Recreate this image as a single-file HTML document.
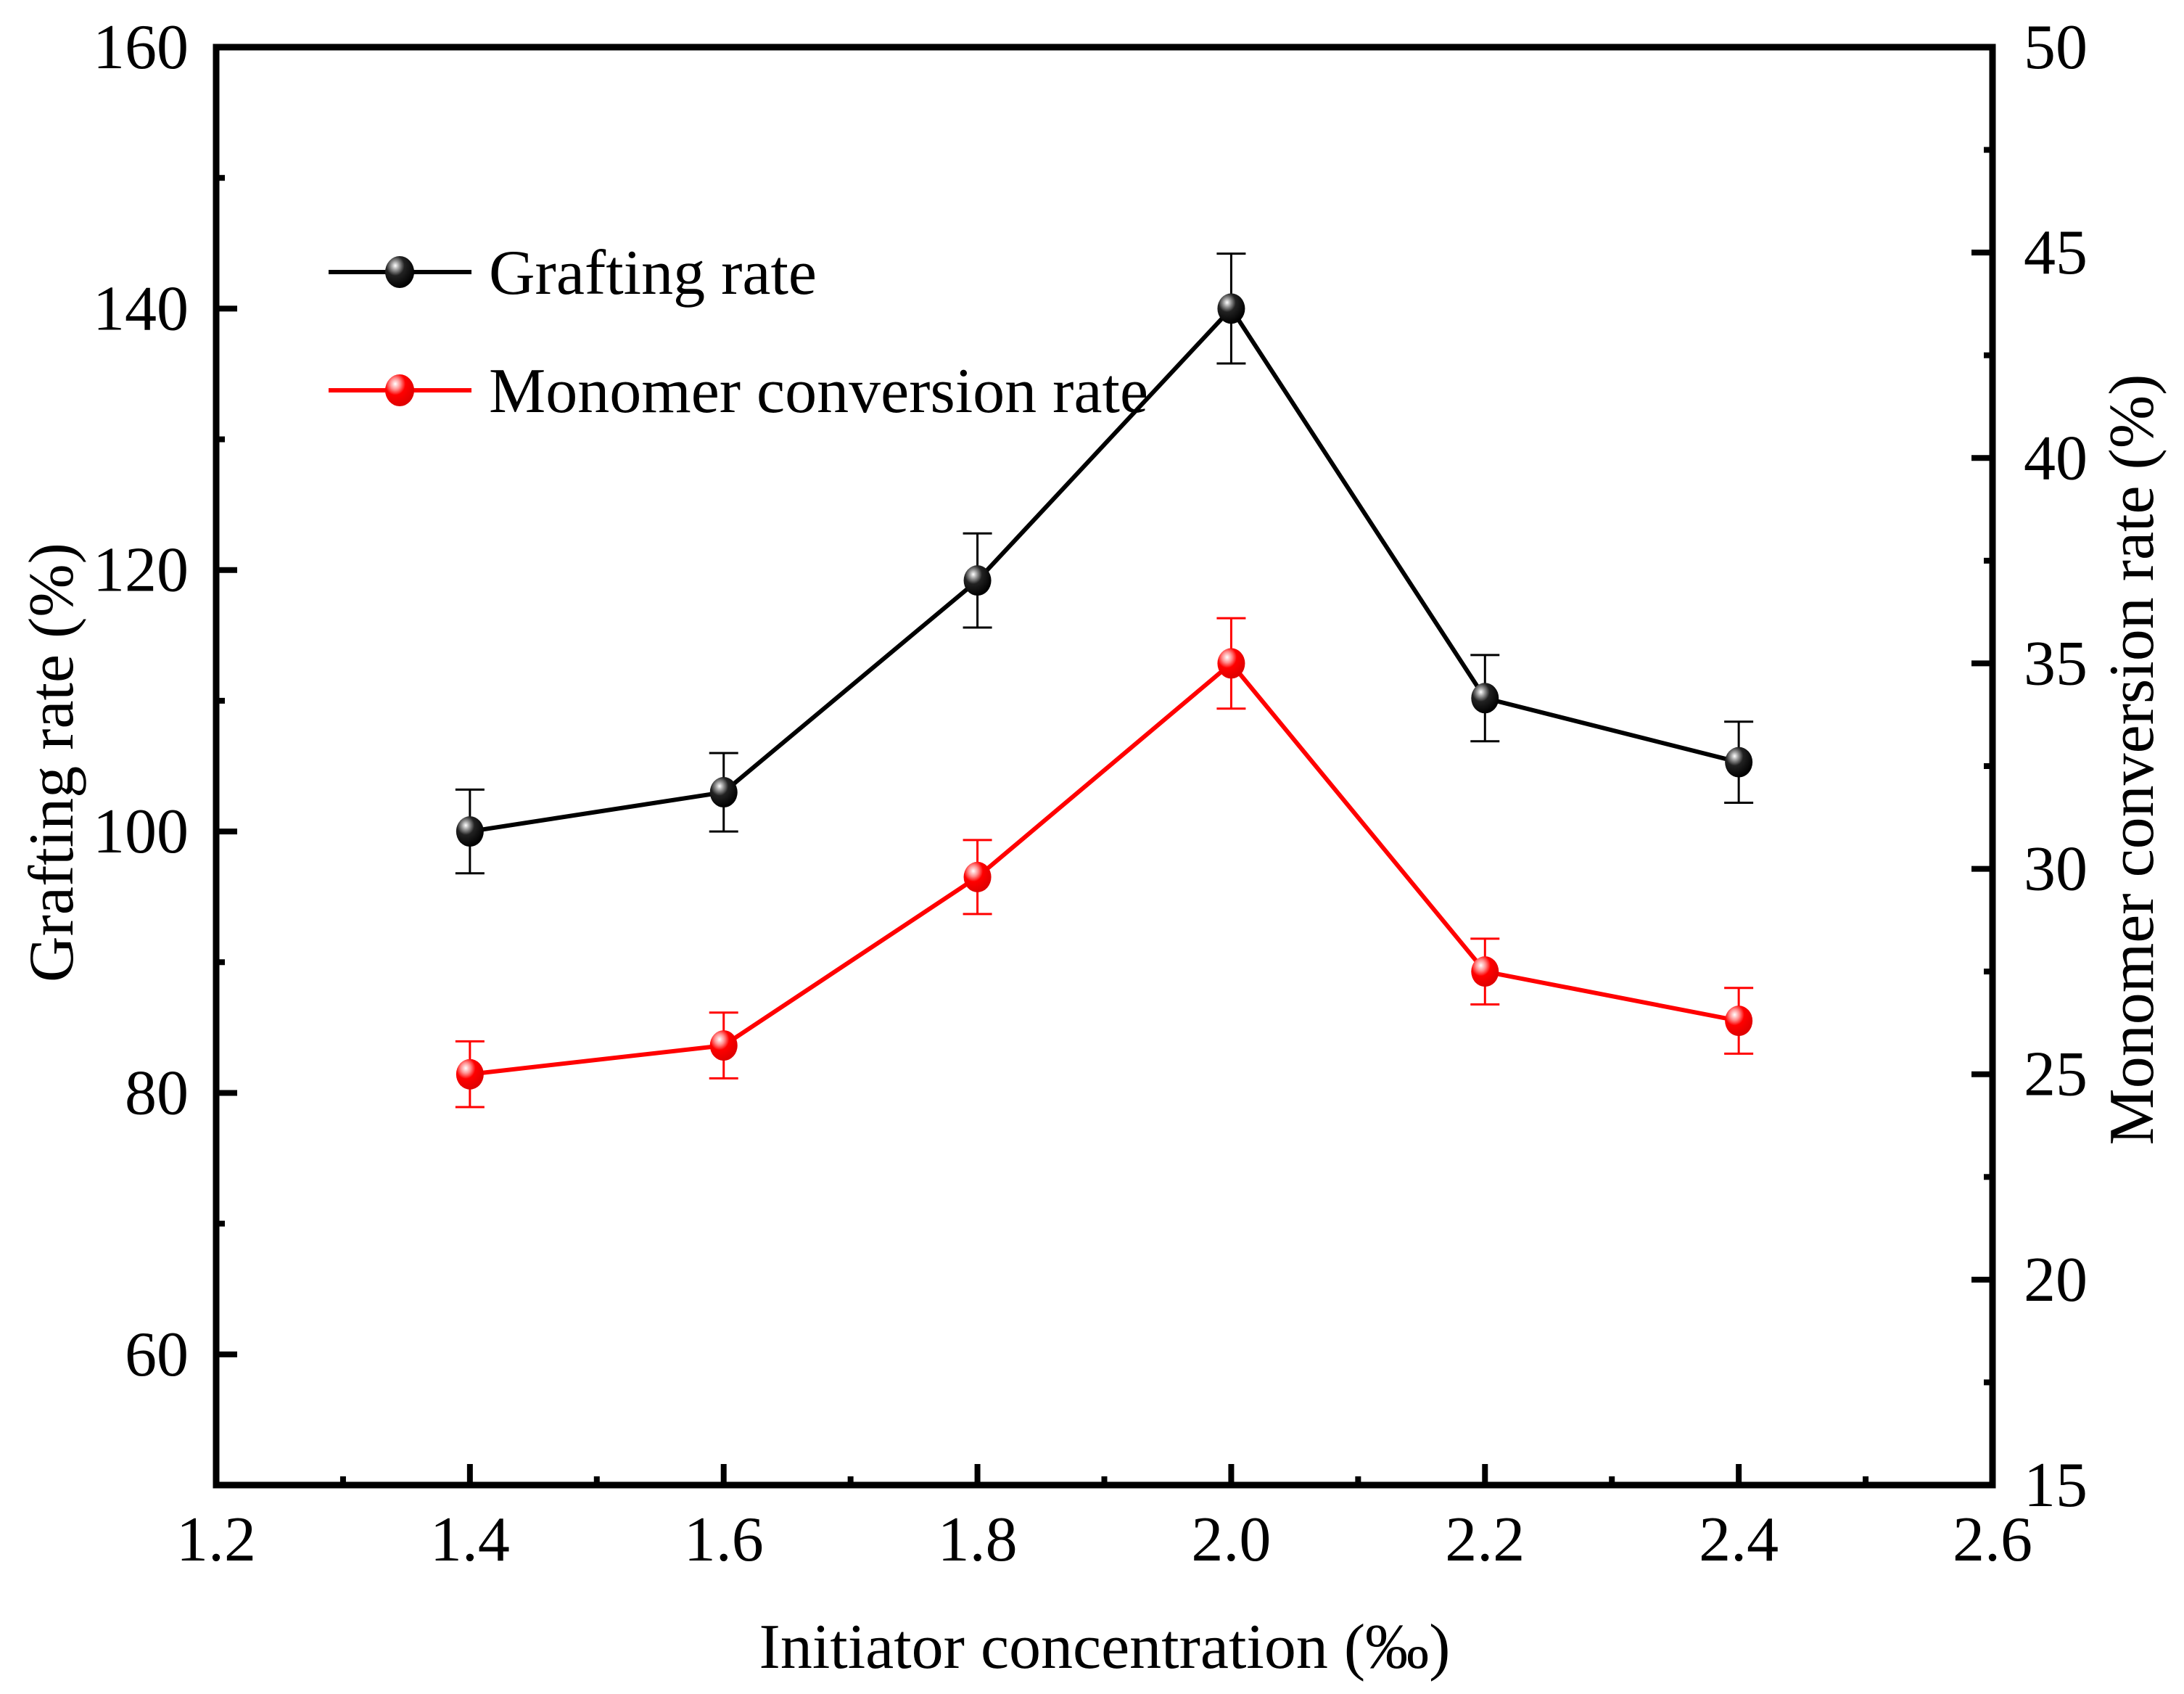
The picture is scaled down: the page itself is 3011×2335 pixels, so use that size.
<!DOCTYPE html>
<html><head><meta charset="utf-8"><style>
html,body{margin:0;padding:0;background:#fff;}
svg{display:block;font-family:"Liberation Serif",serif;}
</style></head><body>
<svg id="chart" width="3011" height="2335" viewBox="0 0 3011 2335" xmlns="http://www.w3.org/2000/svg">
<defs>
<radialGradient id="gBlack" cx="0.35" cy="0.3" r="0.7">
<stop offset="0" stop-color="#fff"/><stop offset="0.2" stop-color="#999"/><stop offset="0.45" stop-color="#222"/><stop offset="1" stop-color="#000"/>
</radialGradient>
<radialGradient id="gRed" cx="0.35" cy="0.3" r="0.7">
<stop offset="0" stop-color="#fff"/><stop offset="0.25" stop-color="#ff9090"/><stop offset="0.5" stop-color="#ff0000"/><stop offset="1" stop-color="#e00000"/>
</radialGradient>
</defs>
<g id="plot"></g>
</svg>
<script>
const xValues = [1.4, 1.6, 1.8, 2.0, 2.2, 2.4];
const graftValues = [100, 103, 119.2, 140, 110.2, 105.3];
const graftErrors = [3.2, 3.0, 3.6, 4.2, 3.3, 3.1];
const monoValues = [25.0, 25.7, 29.8, 35.0, 27.5, 26.3];
const monoErrors = [0.8, 0.8, 0.9, 1.1, 0.8, 0.8];
const xTicks = ["1.2","1.4","1.6","1.8","2.0","2.2","2.4","2.6"];
const yLeftTicks = ["60","80","100","120","140","160"];
const yRightTicks = ["15","20","25","30","35","40","45","50"];

const NS = "http://www.w3.org/2000/svg";
const L = 298, R = 2747, T = 65, B = 2047;
const xs = v => L + (v - 1.2) / 1.4 * (R - L);
const yl = v => B - (v - 50) / 110 * (B - T);
const yr = v => B - (v - 15) / 35 * (B - T);
const g = document.getElementById('plot');
function mk(tag, attrs, parent) {
  const e = document.createElementNS(NS, tag);
  for (const k in attrs) e.setAttribute(k, attrs[k]);
  (parent || g).appendChild(e);
  return e;
}
function txt(s, attrs) { const e = mk('text', attrs); e.textContent = s; return e; }

for (let i = 0; i <= 14; i++) {
  const v = 1.2 + i * 0.1, x = xs(v), len = i % 2 ? 12 : 29;
  const t = mk('line', {x1: x, x2: x, y1: B, y2: B - len, stroke: '#000', 'stroke-width': 8});
  
  
}
for (let i = 0; i <= 11; i++) {
  const v = 50 + i * 10, y = yl(v), len = i % 2 ? 29 : 12;
  const t = mk('line', {x1: L, x2: L + len, y1: y, y2: y, stroke: '#000', 'stroke-width': 8});
  
  
}
for (let i = 0; i <= 14; i++) {
  const v = 15 + i * 2.5, y = yr(v), len = i % 2 ? 12 : 29;
  const t = mk('line', {x1: R, x2: R - len, y1: y, y2: y, stroke: '#000', 'stroke-width': 8});
  
  
}
const fr = mk('rect', {x: L, y: T, width: R - L, height: B - T, fill: 'none', stroke: '#000', 'stroke-width': 9});



xTicks.forEach(s => {
  const t = txt(s, {x: xs(parseFloat(s)), y: 2151, 'font-size': 88, 'text-anchor': 'middle'});
  
  
});
yLeftTicks.forEach(s => {
  const t = txt(s, {x: 260, y: yl(parseFloat(s)) + 29, 'font-size': 88, 'text-anchor': 'end'});
  
  
});
yRightTicks.forEach(s => {
  const t = txt(s, {x: 2790, y: yr(parseFloat(s)) + 29, 'font-size': 88, 'text-anchor': 'start'});
  
  
});

let at = txt('Initiator concentration (‰)', {x: 1523, y: 2299, 'font-size': 88, 'text-anchor': 'middle'});


at = txt('Grafting rate (%)', {x: 0, y: 0, 'font-size': 88, 'text-anchor': 'middle', transform: 'translate(100,1051) rotate(-90)'});


at = txt('Monomer conversion rate (%)', {x: 0, y: 0, 'font-size': 88, 'text-anchor': 'middle', transform: 'translate(2968,1047) rotate(-90)'});



function series(vals, errs, yf, color, grad, name) {
  const pts = vals.map((v, i) => xs(xValues[i]) + ',' + yf(v)).join(' ');
  const pl = mk('polyline', {points: pts, fill: 'none', stroke: color, 'stroke-width': 6});
  
  
  vals.forEach((v, i) => {
    const x = xs(xValues[i]), y1 = yf(v + errs[i]), y2 = yf(v - errs[i]);
    const eb = mk('path', {d: `M${x},${y1}V${y2}M${x-20},${y1}H${x+20}M${x-20},${y2}H${x+20}`, stroke: color, 'stroke-width': 3, fill: 'none'});
    
    
  });
  vals.forEach((v, i) => {
    const c = mk('ellipse', {cx: xs(xValues[i]), cy: yf(v), rx: 19, ry: 21, fill: 'url(#' + grad + ')'});
    
    
  });
}
series(graftValues, graftErrors, yl, '#000', 'gBlack', 'grafting-rate');
series(monoValues, monoErrors, yr, '#ff0000', 'gRed', 'monomer-conversion');

function legend(y, base, color, grad, label, name) {
  const ln = mk('line', {x1: 453, x2: 650, y1: y, y2: y, stroke: color, 'stroke-width': 6});
  
  
  const m = mk('ellipse', {cx: 551, cy: y, rx: 20, ry: 22, fill: 'url(#' + grad + ')'});
  
  
  const t = txt(label, {x: 674, y: base, 'font-size': 88});
  
  
}
legend(375, 405, '#000', 'gBlack', 'Grafting rate', 'grafting-rate');
legend(538, 568, '#ff0000', 'gRed', 'Monomer conversion rate', 'monomer-conversion');
</script>
</body></html>
